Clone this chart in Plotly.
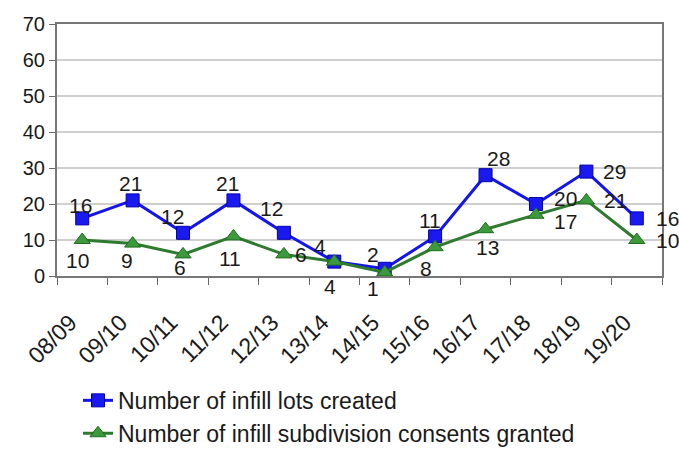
import plotly.graph_objects as go

years = ["08/09", "09/10", "10/11", "11/12", "12/13", "13/14", "14/15",
         "15/16", "16/17", "17/18", "18/19", "19/20"]
lots = [16, 21, 12, 21, 12, 4, 2, 11, 28, 20, 29, 16]
consents = [10, 9, 6, 11, 6, 4, 1, 8, 13, 17, 21, 10]

# label placement (pixel shifts from each point), styling only
lots_shift = [(-2, 13), (-2, 17), (-11, 16), (-6, 17), (-12, 24), (-14, 15),
              (-12, 14), (-5, 16), (13, 17), (30, 6), (28, 0), (31, 0)]
cons_shift = [(-5, -20), (-6, -17), (-3, -13), (-3, -22), (17, 0), (-4, -25),
              (-12, -16), (-9, -21), (2, -18), (30, -7), (29, 0), (31, 0)]

FONT = "Liberation Sans, Arial, sans-serif"

fig = go.Figure()
fig.add_trace(go.Scatter(
    x=years, y=lots, name="Number of infill lots created",
    mode="lines+markers", legendgroup="a",
    line=dict(color="#1414ee", width=3),
    marker=dict(symbol="square", size=13, color="#1a1aee",
                line=dict(color="#0000aa", width=1)),
))
fig.add_trace(go.Scatter(
    x=years, y=consents, name="Number of infill subdivision consents granted",
    mode="lines+markers", legendgroup="b",
    line=dict(color="#2e7a2e", width=3),
    marker=dict(symbol="triangle-up", size=14, color="#3c9a3c",
                line=dict(color="#1e6e1e", width=1)),
))

for vals, shifts in ((lots, lots_shift), (consents, cons_shift)):
    for x, v, (dx, dy) in zip(years, vals, shifts):
        fig.add_annotation(x=x, y=v, text=str(v), showarrow=False,
                           xshift=dx, yshift=dy, xanchor="center", yanchor="middle",
                           font=dict(family=FONT, size=21, color="#1a1a1a"))

fig.update_layout(
    width=679, height=450,
    margin=dict(l=57, r=17, t=24, b=174, autoexpand=False),
    paper_bgcolor="white", plot_bgcolor="white",
    font=dict(family=FONT, size=20, color="#1a1a1a"),
    showlegend=True,
    legend=dict(x=(78 - 57) / 605, xref="paper", y=0.158, yref="container",
                xanchor="left", yanchor="top",
                font=dict(family=FONT, size=23, color="#1a1a1a"),
                bgcolor="rgba(0,0,0,0)", tracegroupgap=0),
)
fig.update_xaxes(
    type="category", tickangle=-45, tickson="boundaries",
    ticks="outside", ticklen=7, tickcolor="#666", automargin=False,
    ticklabelstandoff=22, ticklabelshift=-12,
    showline=True, linecolor="#777", linewidth=2, mirror=True,
    showgrid=False, tickfont=dict(family=FONT, size=23, color="#1a1a1a"),
    range=[-0.5, 11.5],
)
fig.update_yaxes(
    range=[0, 70], dtick=10, ticks="outside", ticklen=6, tickcolor="#666",
    showline=True, linecolor="#777", linewidth=2, mirror=True, automargin=False,
    showgrid=True, gridcolor="#cfcfcf", gridwidth=2,
    tickfont=dict(family=FONT, size=20, color="#1a1a1a"),
    zeroline=False,
)

fig.write_html("out.html")
